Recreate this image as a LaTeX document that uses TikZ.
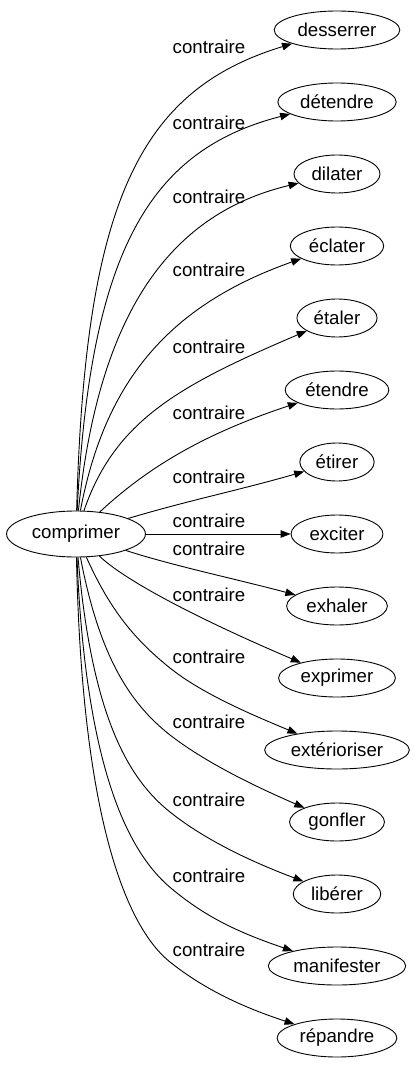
\documentclass[tikz,border=0pt]{standalone}
\usepackage{fontspec}
\setmainfont{Liberation Sans}
\usetikzlibrary{arrows.meta,shapes.geometric}

\begin{document}
\begin{tikzpicture}[
  x=1pt,y=-1pt,
  >=Triangle,
  line/.style={-{Triangle[length=10pt,width=7.5pt]},line width=0.9pt,draw=black},
  word/.style={ellipse,draw=black,line width=0.9pt,inner xsep=5pt,inner ysep=0pt,minimum height=38pt,font=\fontsize{18.67pt}{22pt}\selectfont},
  root/.style={word,minimum height=46pt},
  rel/.style={font=\fontsize{18.67pt}{22pt}\selectfont,inner sep=1pt}
]
\useasboundingbox (0,0) rectangle (416,1067);

% Source word
\node[root] (cmp) at (76,534) {comprimer};

% Opposite words (right column)
\node[word] (dess) at (337,30) {desserrer};
\node[word] (dete) at (337,102) {détendre};
\node[word] (dila) at (337,174) {dilater};
\node[word] (ecla) at (337,246) {éclater};
\node[word] (etal) at (337,318) {étaler};
\node[word] (eten) at (337,390) {étendre};
\node[word] (etir) at (337,462) {étirer};
\node[word] (exci) at (337,534) {exciter};
\node[word] (exha) at (337,606) {exhaler};
\node[word] (expr) at (337,678) {exprimer};
\node[word] (exte) at (337,750) {extérioriser};
\node[word] (gonf) at (337,822) {gonfler};
\node[word] (libe) at (337,894) {libérer};
\node[word] (mani) at (337,966) {manifester};
\node[word] (repa) at (337,1038) {répandre};

% Edge labels
\node[rel] (l1) at (209,47) {contraire};
\node[rel] (l2) at (209,123) {contraire};
\node[rel] (l3) at (209,197) {contraire};
\node[rel] (l4) at (209,270) {contraire};
\node[rel] (l5) at (209,347) {contraire};
\node[rel] (l6) at (209,413) {contraire};
\node[rel] (l7) at (209,477) {contraire};
\node[rel] (l8) at (209,521) {contraire};
\node[rel] (l9) at (209,549) {contraire};
\node[rel] (l10) at (209,595) {contraire};
\node[rel] (l11) at (209,657) {contraire};
\node[rel] (l12) at (209,722) {contraire};
\node[rel] (l13) at (209,800) {contraire};
\node[rel] (l14) at (209,876) {contraire};
\node[rel] (l15) at (209,950) {contraire};

% Bends below the lower labels
\coordinate (v11) at (170,668);
\coordinate (v12) at (170,735);
\coordinate (v13) at (170,812);
\coordinate (v14) at (172,889);
\coordinate (v15) at (170,962);

% Edges upward
\draw[line] (cmp) .. controls (85,200) and (140,90) .. (dess);
\draw[line] (cmp) .. controls (90,250) and (150,150) .. (dete);
\draw[line] (cmp) .. controls (98,320) and (165,215) .. (dila);
\draw[line] (cmp) .. controls (105,380) and (170,305) .. (ecla);
\draw[line] (cmp) .. controls (115,420) and (180,385) .. (etal);
\draw[line] (cmp) .. controls (145,470) and (200,435) .. (eten);
\draw[line] (cmp) .. controls (190,500) and (240,490) .. (etir);

% Edge straight across
\draw[line] (cmp) -- (exci);

% Edges downward
\draw[line] (cmp) .. controls (170,565) and (240,580) .. (exha);
\draw[line] (cmp) .. controls (130,585) and (217,627) .. (expr);
\draw[line] (cmp) .. controls (110,610) and (135,640) .. (v11) .. controls (200,692) and (245,712) .. (exte);
\draw[line] (cmp) .. controls (100,660) and (132,705) .. (v12) .. controls (205,762) and (252,785) .. (gonf);
\draw[line] (cmp) .. controls (92,720) and (130,780) .. (v13) .. controls (205,840) and (252,862) .. (libe);
\draw[line] (cmp) .. controls (86,780) and (133,857) .. (v14) .. controls (207,918) and (240,933) .. (mani);
\draw[line] (cmp) .. controls (82,830) and (130,930) .. (v15) .. controls (205,990) and (245,1008) .. (repa);

\end{tikzpicture}
\end{document}
